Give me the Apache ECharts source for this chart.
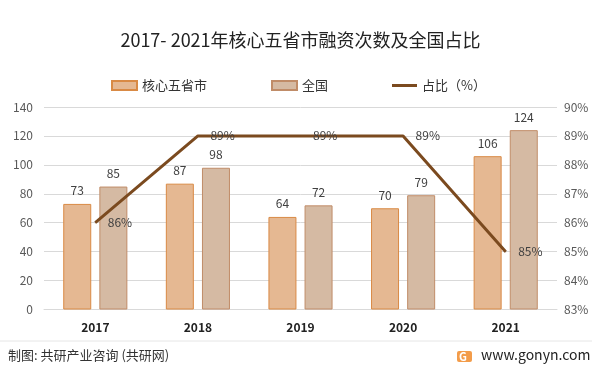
<!DOCTYPE html>
<html>
<head>
<meta charset="utf-8">
<script src="https://cdn.jsdelivr.net/npm/echarts@6/dist/echarts.min.js"></script>
<style>
html,body{margin:0;padding:0;background:#fff;}
#chart{width:601px;height:374px;}
</style>
</head>
<body>
<div id="chart"></div>
<script>
const categories = ['2017', '2018', '2019', '2020', '2021'];
const coreFive = [73, 87, 64, 70, 106];
const national = [85, 98, 72, 79, 124];
const share = [86, 89, 89, 89, 85];
const leftTicks = [0, 20, 40, 60, 80, 100, 120, 140];
const rightTicks = [83, 84, 85, 86, 87, 88, 89, 90];

const FONT = '"Microsoft YaHei","Noto Sans CJK SC","Noto Sans",sans-serif';
const chart = echarts.init(document.getElementById('chart'), null, {renderer: 'canvas'});

chart.setOption({
  animation: false,
  backgroundColor: '#ffffff',
  textStyle: {fontFamily: FONT},
  title: {
    text: '2017- 2021年核心五省市融资次数及全国占比',
    left: 'center',
    top: 26,
    textStyle: {fontSize: 18, fontWeight: 'normal', color: '#222', fontFamily: FONT}
  },
  legend: {
    left: 106,
    top: 74,
    itemWidth: 25,
    itemHeight: 9,
    itemGap: 64,
    textStyle: {fontSize: 13, color: '#333', fontFamily: FONT},
    data: [
      {name: '核心五省市', icon: 'rect'},
      {name: '全国', icon: 'rect'},
      {name: '占比（%）', icon: 'path://M0,3.5 L25,3.5 L25,6.5 L0,6.5 Z', itemStyle: {color: '#7B4A1F'}}
    ]
  },
  grid: {left: 44, right: 44, top: 107, bottom: 374 - 309.5},
  xAxis: {
    type: 'category',
    data: categories,
    axisLine: {show: true, lineStyle: {color: '#d9d9d9'}},
    axisTick: {show: false},
    axisLabel: {color: '#222', fontSize: 12, fontWeight: 'bold', margin: 12, fontFamily: FONT}
  },
  yAxis: [
    {
      type: 'value',
      min: leftTicks[0],
      max: leftTicks[leftTicks.length - 1],
      interval: 20,
      axisLine: {show: false},
      axisTick: {show: false},
      splitLine: {lineStyle: {color: '#d9d9d9'}},
      axisLabel: {color: '#595959', fontSize: 12, margin: 11, fontFamily: FONT}
    },
    {
      type: 'value',
      min: rightTicks[0],
      max: rightTicks[rightTicks.length - 1],
      interval: 1,
      axisLine: {show: false},
      axisTick: {show: false},
      splitLine: {show: false},
      axisLabel: {color: '#595959', fontSize: 12, margin: 7, formatter: '{value}%', fontFamily: FONT}
    }
  ],
  series: [
    {
      name: '核心五省市',
      type: 'bar',
      data: coreFive,
      barWidth: 28,
      barGap: '29%',
      itemStyle: {color: '#E5B892', borderColor: '#D98A45', borderWidth: 1},
      label: {show: true, position: 'top', distance: 7, color: '#404040', fontSize: 12, fontFamily: FONT}
    },
    {
      name: '全国',
      type: 'bar',
      data: national,
      barWidth: 28,
      itemStyle: {color: '#D5BAA3', borderColor: '#C08C68', borderWidth: 1},
      label: {show: true, position: 'top', distance: 7, color: '#404040', fontSize: 12, fontFamily: FONT}
    },
    {
      name: '占比（%）',
      type: 'line',
      yAxisIndex: 1,
      data: share,
      symbol: 'circle',
      symbolSize: 1,
      showSymbol: true,
      lineStyle: {color: '#7B4A1F', width: 3},
      itemStyle: {color: '#7B4A1F'},
      label: {show: true, position: 'right', distance: 12, color: '#404040', fontSize: 12, formatter: '{c}%', fontFamily: FONT}
    }
  ],
  graphic: [
    {type: 'line', shape: {x1: 0, y1: 341, x2: 592, y2: 341}, style: {stroke: '#e6e6e6', lineWidth: 1}},
    {type: 'text', left: 8, top: 349, style: {text: '制图: 共研产业咨询 (共研网)', fill: '#333', fontSize: 13, fontFamily: FONT}},
    {type: 'rect', shape: {x: 457, y: 351, width: 15, height: 11, r: 2}, style: {fill: '#F39C4A'}},
    {type: 'text', x: 459, y: 351, style: {text: 'G', fill: '#fff', fontSize: 11, fontWeight: 'bold', fontFamily: FONT}},
    {type: 'text', left: 481, top: 348, style: {text: 'www.gonyn.com', fill: '#222', fontSize: 14, fontFamily: FONT}}
  ]
});
</script>
</body>
</html>
